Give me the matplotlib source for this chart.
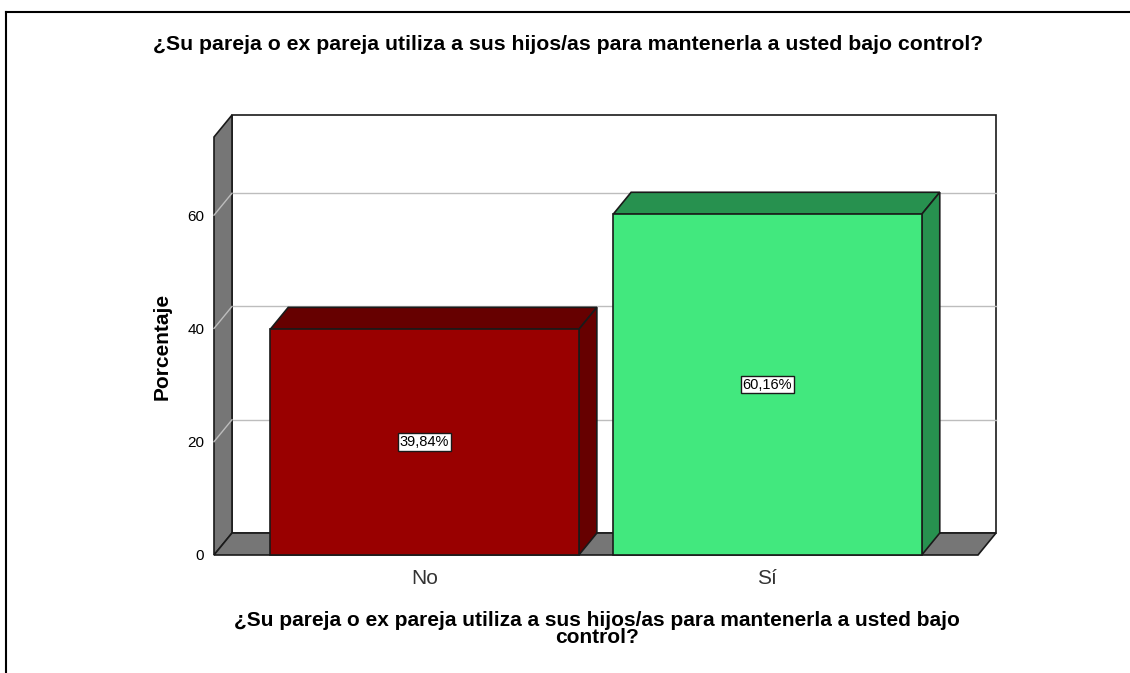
import matplotlib
matplotlib.use("agg")
import matplotlib.pyplot as plt
from matplotlib.patches import Polygon, Rectangle
from matplotlib.lines import Line2D

plt.rcParams['font.family'] = ['Liberation Sans', 'DejaVu Sans']

# Data
categories = ["No", "Sí"]
percentages = [39.84, 60.16]
value_labels = ["39,84%", "60,16%"]
yticks = [0, 20, 40, 60]
title = "¿Su pareja o ex pareja utiliza a sus hijos/as para mantenerla a usted bajo control?"
xlabel = "¿Su pareja o ex pareja utiliza a sus hijos/as para mantenerla a usted bajo\ncontrol?"
ylabel = "Porcentaje"

front_colors = ["#990000", "#42e87e"]
shade_colors = ["#660000", "#27914f"]
wall_color = "#767676"
grid_color = "#bdbdbd"
edge = "#1a1a1a"

# 3D depth offset in data units
dx = 0.0525
dy = 3.88
ymax = 73.8
x0, x1 = -0.614, 1.614
bar_w = 0.90

fig = plt.figure(figsize=(11.3, 6.73), dpi=100)
ax = fig.add_axes([214 / 1130, 118 / 673, 764 / 1130, 418 / 673])
ax.set_xlim(x0, x1)
ax.set_ylim(0, ymax)
for s in ax.spines.values():
    s.set_visible(False)

# back wall
ax.add_patch(Rectangle((x0 + dx, dy), x1 - x0, ymax, facecolor="white",
                       edgecolor=edge, lw=1.2, clip_on=False, zorder=0))
# left wall
ax.add_patch(Polygon([(x0, 0), (x0, ymax), (x0 + dx, ymax + dy), (x0 + dx, dy)],
                     facecolor=wall_color, edgecolor=edge, lw=1.2,
                     clip_on=False, zorder=1))
# floor
ax.add_patch(Polygon([(x0, 0), (x1, 0), (x1 + dx, dy), (x0 + dx, dy)],
                     facecolor=wall_color, edgecolor=edge, lw=1.2,
                     clip_on=False, zorder=1))

# gridlines on back wall and left wall
for t in yticks[1:]:
    ax.plot([x0 + dx, x1 + dx], [t + dy, t + dy], color=grid_color, lw=1,
            clip_on=False, zorder=0.5)
    ax.plot([x0, x0 + dx], [t, t + dy], color=grid_color, lw=1,
            clip_on=False, zorder=1.5)

# bars
for i, v in enumerate(percentages):
    l, r = i - bar_w / 2, i + bar_w / 2
    ax.add_patch(Polygon([(l, v), (r, v), (r + dx, v + dy), (l + dx, v + dy)],
                         facecolor=shade_colors[i], edgecolor=edge, lw=1.2,
                         clip_on=False, zorder=2))
    ax.add_patch(Polygon([(r, 0), (r, v), (r + dx, v + dy), (r + dx, dy)],
                         facecolor=shade_colors[i], edgecolor=edge, lw=1.2,
                         clip_on=False, zorder=2))
    ax.add_patch(Rectangle((l, 0), bar_w, v, facecolor=front_colors[i],
                           edgecolor=edge, lw=1.2, clip_on=False, zorder=3))
    ax.text(i, v / 2, value_labels[i], ha="center", va="center", fontsize=10.5,
            zorder=4, bbox=dict(boxstyle="square,pad=0.12", facecolor="white",
                                edgecolor=edge, lw=1))

ax.set_yticks(yticks)
ax.set_yticklabels([str(t) for t in yticks], fontsize=11)
ax.set_xticks(range(len(categories)))
ax.set_xticklabels(categories, fontsize=15, color="#333333")
ax.tick_params(axis="y", length=0, pad=7)
ax.tick_params(axis="x", length=0, pad=10)

ax.set_ylabel(ylabel, fontsize=15, fontweight="bold")
ax.yaxis.set_label_coords((172 - 214) / 764, 0.5)
ax.set_xlabel(xlabel, fontsize=15, fontweight="bold", linespacing=0.85)
ax.xaxis.set_label_coords((597 - 214) / 764, (555 - 629) / 418)
ax.xaxis.label.set_va("center")

fig.text(568 / 1130, 1 - 44 / 673, title, ha="center", va="center",
         fontsize=15.3, fontweight="bold")

# outer border
fig.add_artist(Line2D([6 / 1130, 1], [1 - 12 / 673, 1 - 12 / 673],
                      color="black", lw=1.5))
fig.add_artist(Line2D([6 / 1130, 6 / 1130], [0, 1 - 12 / 673],
                      color="black", lw=1.5))

fig.savefig("out.png", dpi=100)
